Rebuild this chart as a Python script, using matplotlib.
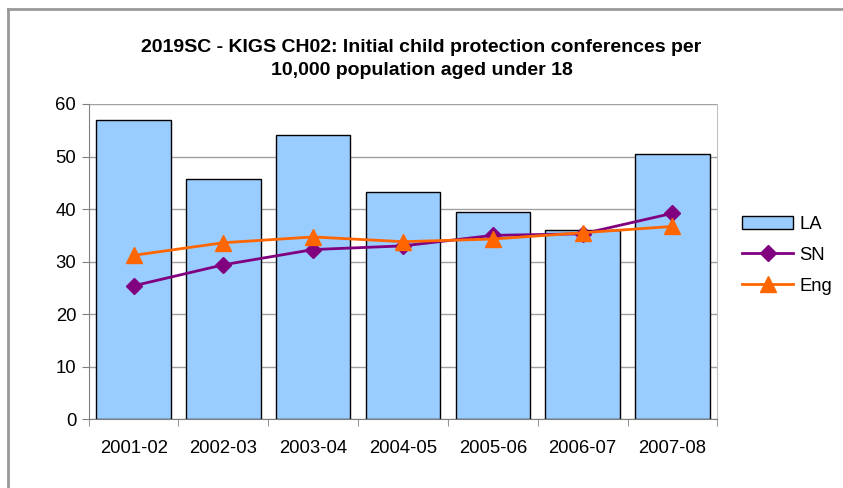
import numpy as np
import matplotlib
matplotlib.use("Agg")
import matplotlib.pyplot as plt
from matplotlib.lines import Line2D

# data
years = ["2001-02", "2002-03", "2003-04", "2004-05", "2005-06", "2006-07", "2007-08"]
la = [57.0, 45.8, 54.1, 43.2, 39.4, 36.0, 50.5]
sn = [25.4, 29.4, 32.3, 33.0, 35.0, 35.3, 39.2]
eng = [31.2, 33.6, 34.7, 33.8, 34.3, 35.5, 36.7]

plt.rcParams['font.family'] = ['Liberation Sans', 'DejaVu Sans']


def main():
    fig = plt.figure(figsize=(8.43, 4.88), dpi=100, facecolor='w')
    ax = fig.add_axes([0.1052, 0.1408, 0.851 - 0.1052, 0.7869 - 0.1408])

    x = np.arange(len(years))

    # bars and lines
    b = ax.bar(x, la, width=0.83, color='#99CCFF', edgecolor='black',
               linewidth=1, label='LA', zorder=2)
    l1, = ax.plot(x, sn, color='#800080', marker='D', markersize=8,
                  linewidth=2, label='SN', zorder=3)
    l2, = ax.plot(x, eng, color='#FF6600', marker='^', markersize=11,
                  linewidth=2, label='Eng', zorder=4)

    # axes
    ax.set_xlim(-0.5, len(years) - 0.5)
    ax.set_ylim(0, 60)
    ax.set_yticks(range(0, 61, 10))
    ax.set_xticks(x)
    ax.set_xticklabels(years)
    ax.set_xticks(np.arange(-0.5, len(years), 1.0), minor=True)
    ax.tick_params(axis='x', which='major', length=0, pad=15, labelsize=13.3)
    ax.tick_params(axis='x', which='minor', length=5, color='#808080')
    ax.tick_params(axis='y', length=5, color='#808080', labelsize=13.3, pad=4)
    ax.yaxis.grid(True, color='#a0a0a0', linewidth=1, zorder=0)
    ax.set_axisbelow(True)
    for side in ['left', 'bottom']:
        ax.spines[side].set_color('#808080')
    ax.spines['right'].set_color('#c0c0c0')
    ax.spines['top'].set_visible(False)

    # title
    fig.text(0.5, 1 - 59 / 488,
             "2019SC - KIGS CH02: Initial child protection conferences per\n"
             "10,000 population aged under 18",
             ha='center', va='center', fontsize=14, fontweight='bold',
             linespacing=1.4)

    # legend
    ax.legend([b, l1, l2], ['LA', 'SN', 'Eng'],
              loc='center left', bbox_to_anchor=(1.027, 0.52), frameon=False,
              fontsize=13.3, handlelength=2.8, labelspacing=0.75,
              handletextpad=0.3, borderaxespad=0)

    # chart border (left and top only)
    fig.add_artist(Line2D([8 / 843, 8 / 843], [0, 1 - 9 / 488],
                          color='#999999', linewidth=2))
    fig.add_artist(Line2D([8 / 843, 1], [1 - 9 / 488, 1 - 9 / 488],
                          color='#999999', linewidth=2))

    fig.savefig('out.png', dpi=100)


main()
